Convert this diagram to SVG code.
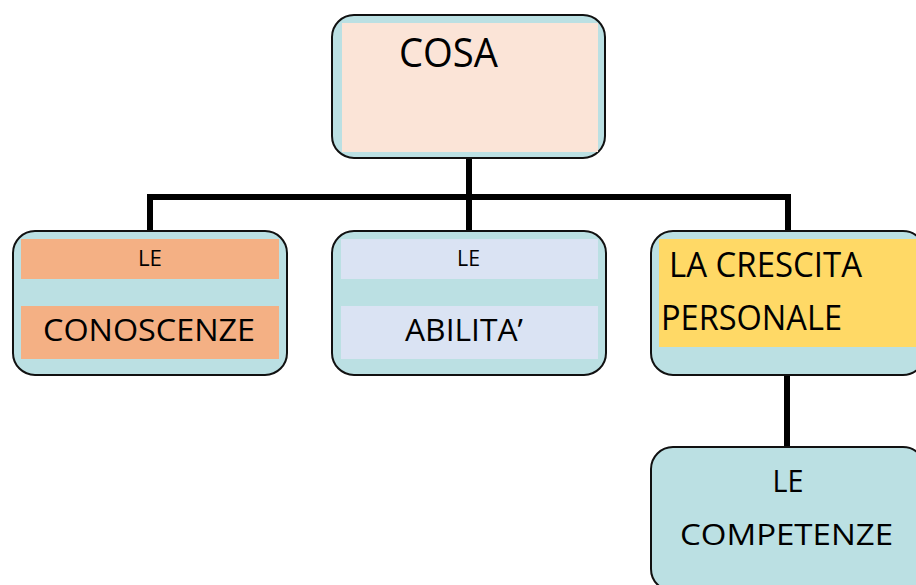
<svg xmlns="http://www.w3.org/2000/svg" width="916" height="585" viewBox="0 0 916 585">
  <style>
    .box { fill: #bbe0e3; stroke: #111; stroke-width: 2; }
    .t { font-family: "Open Sans", "Liberation Sans", sans-serif; fill: #000; }
    .wire { fill: none; stroke: #000; stroke-width: 6; stroke-linejoin: miter; }
  </style>
  <rect width="916" height="585" fill="#fff"/>

  <!-- connectors -->
  <g id="connectors">
    <path class="wire" d="M469 158 V197 M150 231 V197 H788 V231 M469 197 V231"/>
    <path class="wire" d="M787 375 V447"/>
  </g>

  <!-- root -->
  <g id="cosa">
    <rect class="box" x="332" y="15" width="273" height="143" rx="22"/>
    <rect x="342" y="23" width="256" height="129" fill="#fbe4d7"/>
    <text class="t" x="399" y="67" font-size="40" textLength="99" lengthAdjust="spacingAndGlyphs">COSA</text>
  </g>

  <g id="conoscenze">
    <rect class="box" x="13" y="231" width="274" height="144" rx="22"/>
    <rect x="21" y="239" width="258" height="40" fill="#f4b084"/>
    <rect x="21" y="306" width="258" height="53" fill="#f4b084"/>
    <text class="t" x="150" y="266" font-size="22" text-anchor="middle" textLength="24" lengthAdjust="spacingAndGlyphs">LE</text>
    <text class="t" x="43" y="341" font-size="31" textLength="212" lengthAdjust="spacingAndGlyphs">CONOSCENZE</text>
  </g>

  <g id="abilita">
    <rect class="box" x="332" y="231" width="274" height="144" rx="22"/>
    <rect x="341" y="239" width="257" height="40" fill="#dae3f3"/>
    <rect x="341" y="306" width="257" height="53" fill="#dae3f3"/>
    <text class="t" x="468.5" y="266" font-size="22" text-anchor="middle" textLength="23" lengthAdjust="spacingAndGlyphs">LE</text>
    <text class="t" x="405" y="341" font-size="31" textLength="118" lengthAdjust="spacingAndGlyphs">ABILITA’</text>
  </g>

  <g id="crescita">
    <rect class="box" x="651" y="231" width="274" height="144" rx="22"/>
    <rect x="659" y="239" width="258" height="108" fill="#ffd966"/>
    <text class="t" x="669" y="277" font-size="35" textLength="193" lengthAdjust="spacingAndGlyphs">LA CRESCITA</text>
    <text class="t" x="661" y="330" font-size="35" textLength="181" lengthAdjust="spacingAndGlyphs">PERSONALE</text>
  </g>

  <g id="competenze">
    <rect class="box" x="651" y="447" width="274" height="144" rx="22"/>
    <text class="t" x="788" y="492" font-size="31" text-anchor="middle" textLength="31" lengthAdjust="spacingAndGlyphs">LE</text>
    <text class="t" x="680" y="545" font-size="30" textLength="213" lengthAdjust="spacingAndGlyphs">COMPETENZE</text>
  </g>
</svg>
